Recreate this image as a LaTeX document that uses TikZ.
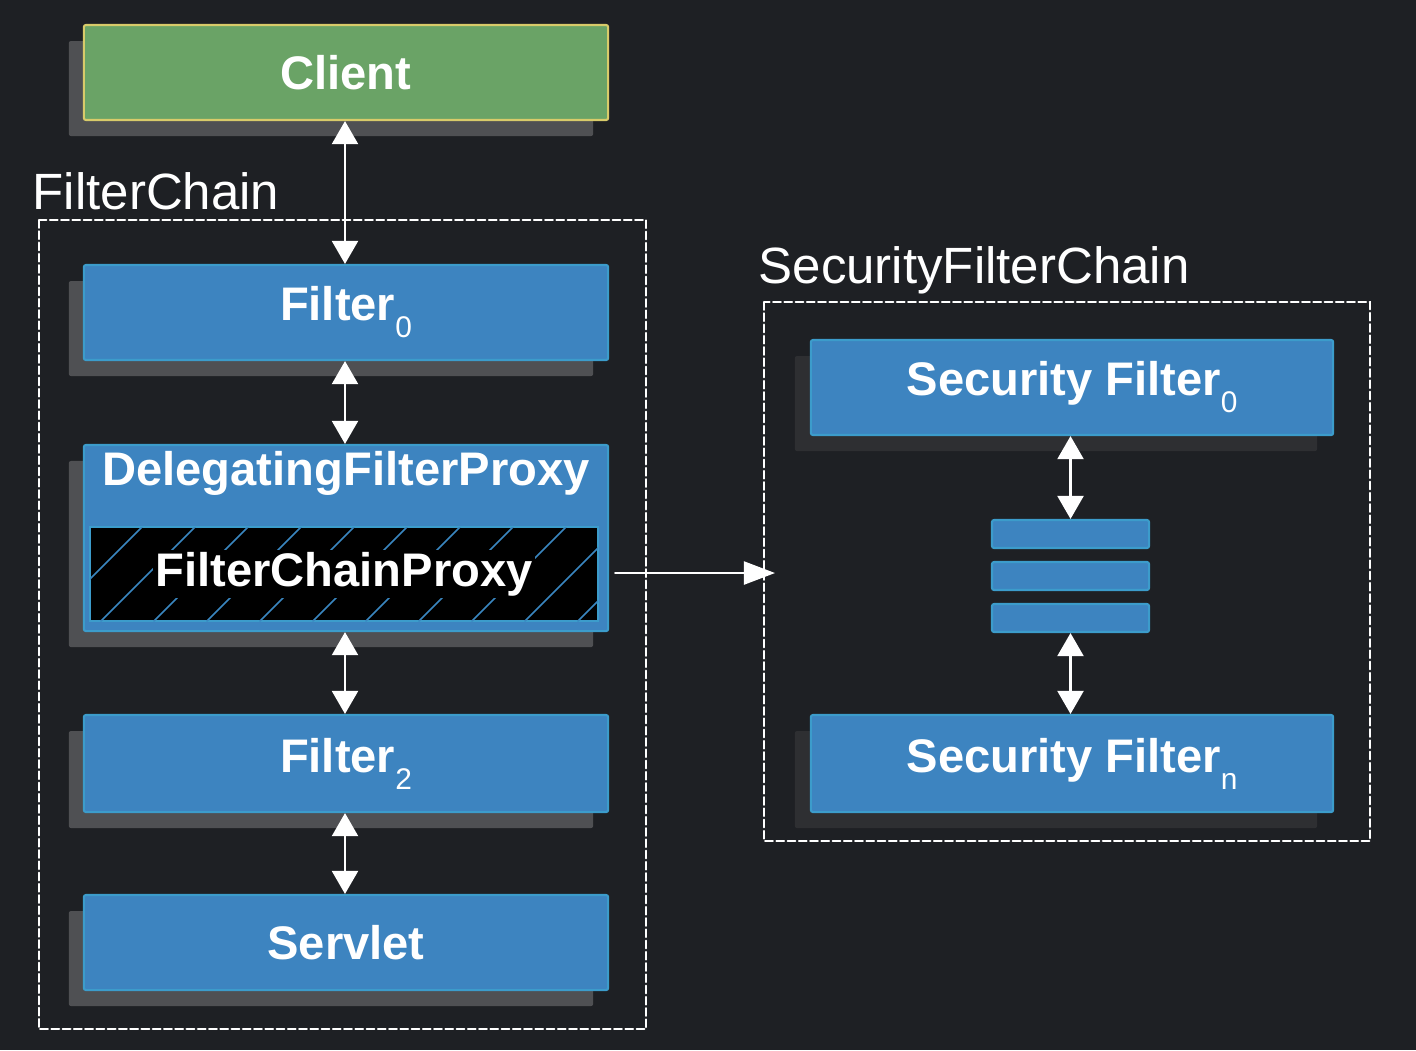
\documentclass[tikz,border=0pt]{standalone}
\usepackage{fontspec}
\setmainfont{Liberation Sans}
\usetikzlibrary{arrows.meta,shadows}
\definecolor{bgdark}{HTML}{1E2024}
\definecolor{boxblue}{HTML}{3D84C0}
\definecolor{boxline}{HTML}{3C9CCB}
\definecolor{clientgreen}{HTML}{6AA366}
\definecolor{clientline}{HTML}{D8CB6A}
\definecolor{shadowlight}{HTML}{4F5053}
\definecolor{shadowdark}{HTML}{2E2F32}
\definecolor{hatchblue}{HTML}{3A86C0}
\newcommand{\idx}[1]{\raisebox{-0.36em}{\normalfont\fontsize{8.5}{10}\selectfont#1}}

\begin{document}
\begin{tikzpicture}[x=0.01cm,y=-0.01cm,>={Triangle[length=2.3mm,width=2.6mm]},line cap=round,
  box/.style={rectangle,draw=boxline,fill=boxblue,line width=0.6pt,rounded corners=0.6pt,
    minimum width=5.24cm,minimum height=0.95cm,inner sep=0pt,text=white,
    font=\fontsize{13.4}{16}\selectfont\bfseries},
  lshadow/.style={drop shadow={shadow xshift=-0.15cm,shadow yshift=-0.16cm,fill=shadowlight,opacity=1}},
  rshadow/.style={drop shadow={shadow xshift=-0.16cm,shadow yshift=-0.16cm,fill=shadowdark,opacity=1}},
  chain/.style={draw=white,line width=0.6pt,dash pattern=on 2.2pt off 1pt},
  title/.style={text=white,inner sep=0pt,anchor=base west,font=\fontsize{14.5}{17}\selectfont},
  link/.style={<->,draw=white,line width=0.6pt}]
\fill[bgdark] (0,0) rectangle (1416,1050);
\useasboundingbox (0,0) rectangle (1416,1050);

% chain frames
\draw[chain] (39,220) rectangle (646,1029);
\node[title] (fclabel) at (32,209) {FilterChain};
\draw[chain] (764,302) rectangle (1370,841);
\node[title] (sfclabel) at (758,283) {SecurityFilterChain};

% left column
\node[box,lshadow,fill=clientgreen,draw=clientline] (client) at (346,72.5) {Client};
\node[box,lshadow] (f0) at (346,312.5) {Filter\idx{0}};
\node[box,lshadow,minimum height=1.86cm] (dfp) at (346,538) {};
\node[text=white,inner sep=0pt,font=\fontsize{13.4}{16}\selectfont\bfseries] (dfplabel) at (346,473) {DelegatingFilterProxy};
\node[rectangle,fill=black,draw=boxline,line width=0.6pt,minimum width=5.08cm,minimum height=0.94cm] (fcp) at (344,574) {};
\begin{scope}
\clip (90,527) rectangle (598,621);
\foreach \k in {0,...,11}
  \draw[hatchblue,line width=0.45pt] (48+53*\k,621) -- ++(94,-94);
\end{scope}
\node[text=white,fill=black,inner sep=0.6pt,font=\fontsize{13.4}{16}\selectfont\bfseries] (fcplabel) at (fcp) {FilterChainProxy};
\node[box,lshadow,minimum height=0.97cm] (f2) at (346,763.5) {Filter\idx{2}};
\node[box,lshadow] (servlet) at (346,942.5) {Servlet};

% right column
\node[box,rshadow,minimum width=5.22cm] (sf0) at (1072,387.5) {Security Filter\idx{0}};
\foreach \n/\y in {1/534,2/576,3/618}
  \node[box,minimum width=1.57cm,minimum height=0.28cm] (dots\n) at (1070.5,\y) {};
\node[box,rshadow,minimum width=5.22cm,minimum height=0.97cm] (sfn) at (1072,763.5) {Security Filter\idx{n}};

% connectors
\draw[link] (client.south -| 345,0) -- (f0.north -| 345,0);
\draw[link] (f0.south -| 345,0) -- (dfp.north -| 345,0);
\draw[link] (dfp.south -| 345,0) -- (f2.north -| 345,0);
\draw[link] (f2.south -| 345,0) -- (servlet.north -| 345,0);
\draw[link] (sf0.south -| dots1) -- (dots1.north);
\draw[link] (dots3.south) -- (sfn.north -| dots3);
\coordinate (sfcin) at (775,573);
\draw[-{Triangle[length=3.1mm,width=2.3mm]},white,line width=0.6pt] ([xshift=0.06cm]dfp.east |- sfcin) -- (sfcin);
\end{tikzpicture}
\end{document}
